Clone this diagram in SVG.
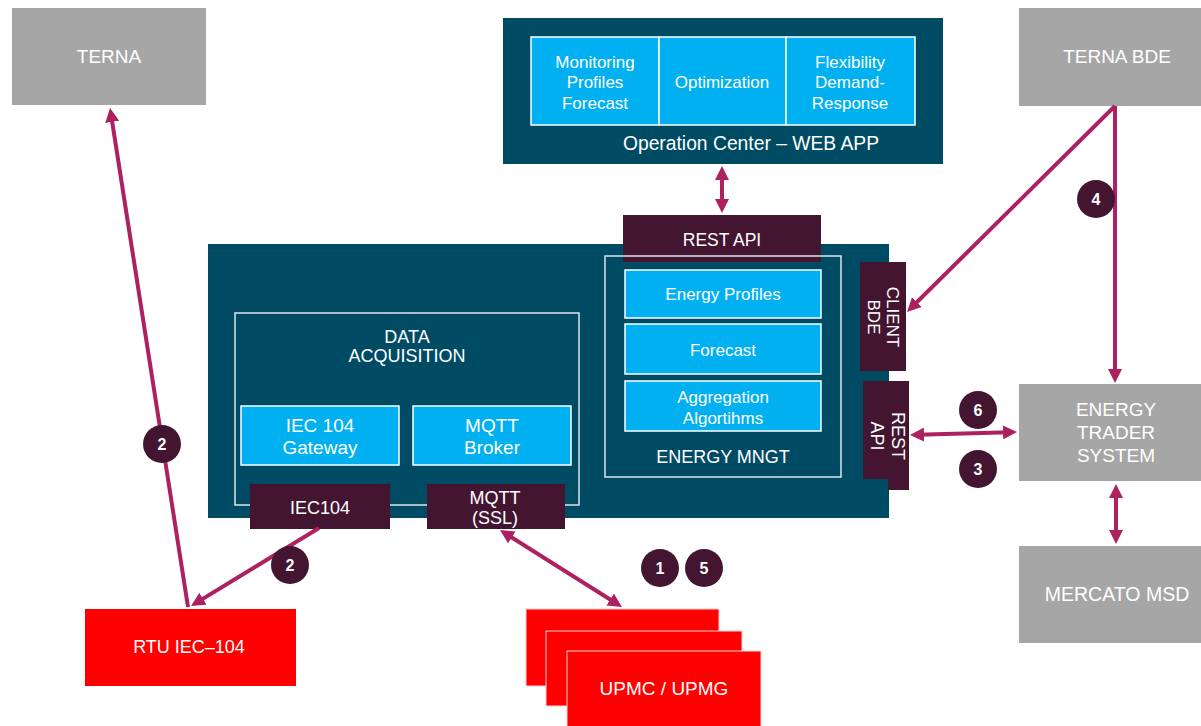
<svg xmlns="http://www.w3.org/2000/svg" width="1201" height="726" viewBox="0 0 1201 726">
<defs>
<style>
text{font-family:"Liberation Sans",Arial,sans-serif;fill:#ffffff;text-anchor:middle}
.gray{fill:#a6a6a6}
.teal{fill:#004b64}
.blue{fill:#00b0f0;stroke:#ffffff;stroke-width:1.5}
.tab{fill:#431530}
.red{fill:#ff0000}
.stack{fill:#ff0000;stroke:#ffd0d0;stroke-width:1}
.outline{fill:none;stroke:#dde6ea;stroke-width:1.5}
.conn{stroke:#ae2160;stroke-width:4;fill:none}
.badge{fill:#431530}
.num{font-size:16px;font-weight:bold}
.t19{font-size:19px}
.t18{font-size:18px}
.t17{font-size:17px}
</style>
<marker id="ah" viewBox="0 0 10 10" refX="5" refY="5" markerWidth="14" markerHeight="14" markerUnits="userSpaceOnUse" orient="auto-start-reverse">
<path d="M0,0 L10,5 L0,10 z" fill="#ae2160"/>
</marker>
</defs>
<rect width="1201" height="726" fill="#ffffff"/>

<g id="terna">
<rect class="gray" x="12" y="8" width="194" height="97"/>
<text class="t19" x="109" y="63">TERNA</text>
</g>

<g id="terna-bde">
<rect class="gray" x="1019" y="8" width="182" height="98"/>
<text class="t19" x="1117" y="63">TERNA BDE</text>
</g>

<g id="operation-center">
<rect class="teal" x="503" y="18" width="440" height="146"/>
<rect class="blue" x="531" y="37" width="128" height="88"/>
<rect class="blue" x="659" y="37" width="127" height="88"/>
<rect class="blue" x="786" y="37" width="129" height="88"/>
<text class="t17" x="595" y="68">Monitoring</text>
<text class="t17" x="595" y="88">Profiles</text>
<text class="t17" x="595" y="109">Forecast</text>
<text class="t17" x="722" y="88">Optimization</text>
<text class="t17" x="850" y="68">Flexibility</text>
<text class="t17" x="850" y="88">Demand-</text>
<text class="t17" x="850" y="109">Response</text>
<text style="font-size:19.3px" x="751" y="150">Operation Center – WEB APP</text>
</g>

<g id="platform">
<rect class="teal" x="208" y="244" width="681" height="274"/>
</g>

<g id="rest-api-top">
<rect class="tab" x="623" y="215" width="198" height="47"/>
<text style="font-size:17.5px" x="722" y="246">REST API</text>
</g>

<g id="data-acquisition">
<rect class="outline" x="235" y="313" width="344" height="192"/>
<text class="t18" x="407" y="343">DATA</text>
<text class="t18" x="407" y="362">ACQUISITION</text>
</g>

<g id="iec104-gateway">
<rect class="blue" x="241" y="406" width="158" height="59"/>
<text class="t19" x="320" y="432">IEC 104</text>
<text class="t19" x="320" y="454">Gateway</text>
</g>

<g id="mqtt-broker">
<rect class="blue" x="413" y="406" width="158" height="59"/>
<text class="t19" x="492" y="432">MQTT</text>
<text class="t19" x="492" y="454">Broker</text>
</g>

<g id="iec104-port">
<rect class="tab" x="250" y="484" width="140" height="45"/>
<text class="t18" x="320" y="514">IEC104</text>
</g>

<g id="mqtt-port">
<rect class="tab" x="427" y="484" width="138" height="45"/>
<text class="t18" x="495" y="504">MQTT</text>
<text class="t18" x="495" y="524">(SSL)</text>
</g>

<g id="energy-mngt">
<rect class="outline" x="605" y="256" width="236" height="221"/>
<text class="t18" x="723" y="463">ENERGY MNGT</text>
</g>

<g id="energy-profiles">
<rect class="blue" x="625" y="270" width="196" height="48"/>
<text class="t17" x="723" y="300">Energy Profiles</text>
</g>

<g id="forecast">
<rect class="blue" x="625" y="324" width="196" height="50"/>
<text class="t17" x="723" y="356">Forecast</text>
</g>

<g id="aggregation">
<rect class="blue" x="625" y="381" width="196" height="50"/>
<text class="t17" x="723" y="403">Aggregation</text>
<text class="t17" x="723" y="424">Algortihms</text>
</g>

<g id="client-bde">
<rect class="tab" x="860" y="262" width="46" height="109"/>
<text class="t17" transform="translate(883,317) rotate(90)"><tspan x="0" y="-4">CLIENT</tspan><tspan x="0" y="15">BDE</tspan></text>
</g>

<g id="rest-api-right">
<path class="tab" d="M863,381 H909 V490 H888 V479 H863 Z"/>
<text class="t18" transform="translate(886,436) rotate(90)"><tspan x="0" y="-6">REST</tspan><tspan x="0" y="15">API</tspan></text>
</g>

<g id="energy-trader">
<rect class="gray" x="1019" y="384" width="182" height="97"/>
<text class="t19" x="1116" y="416">ENERGY</text>
<text class="t19" x="1116" y="439">TRADER</text>
<text class="t19" x="1116" y="462">SYSTEM</text>
</g>

<g id="mercato-msd">
<rect class="gray" x="1019" y="546" width="182" height="97"/>
<text style="font-size:19.5px" x="1117" y="601">MERCATO MSD</text>
</g>

<g id="rtu">
<rect class="red" x="85" y="609" width="211" height="77"/>
<text class="t18" x="189" y="653">RTU IEC–104</text>
</g>

<g id="upmc">
<rect class="stack" x="526" y="609" width="193" height="77"/>
<rect class="stack" x="546" y="631" width="196" height="75"/>
<rect class="stack" x="567" y="651" width="194" height="80"/>
<text class="t19" x="664" y="695">UPMC / UPMG</text>
</g>

<g id="connectors">
<line class="conn" x1="722" y1="173" x2="722" y2="206" marker-start="url(#ah)" marker-end="url(#ah)"/>
<line class="conn" x1="1115" y1="106" x2="912" y2="307" marker-end="url(#ah)"/>
<line class="conn" x1="1115" y1="106" x2="1115" y2="376" marker-end="url(#ah)"/>
<line class="conn" x1="917" y1="434.8" x2="1010" y2="432.2" marker-start="url(#ah)" marker-end="url(#ah)"/>
<line class="conn" x1="1116" y1="491" x2="1116" y2="537" marker-start="url(#ah)" marker-end="url(#ah)"/>
<line class="conn" x1="188" y1="607" x2="111.1" y2="114.9" marker-end="url(#ah)"/>
<line class="conn" x1="319" y1="528" x2="197" y2="602.4" marker-end="url(#ah)"/>
<line class="conn" x1="505.9" y1="533.7" x2="616.1" y2="603.3" marker-start="url(#ah)" marker-end="url(#ah)"/>
</g>

<g id="badges">
<circle class="badge" cx="1096" cy="199" r="19"/><text class="num" x="1096" y="205">4</text>
<circle class="badge" cx="978" cy="410" r="19"/><text class="num" x="978" y="416">6</text>
<circle class="badge" cx="978" cy="469" r="19"/><text class="num" x="978" y="475">3</text>
<circle class="badge" cx="162" cy="444" r="19"/><text class="num" x="162" y="450">2</text>
<circle class="badge" cx="290" cy="565" r="19"/><text class="num" x="290" y="571">2</text>
<circle class="badge" cx="660" cy="568" r="19"/><text class="num" x="660" y="574">1</text>
<circle class="badge" cx="704" cy="568" r="19"/><text class="num" x="704" y="574">5</text>
</g>
</svg>
